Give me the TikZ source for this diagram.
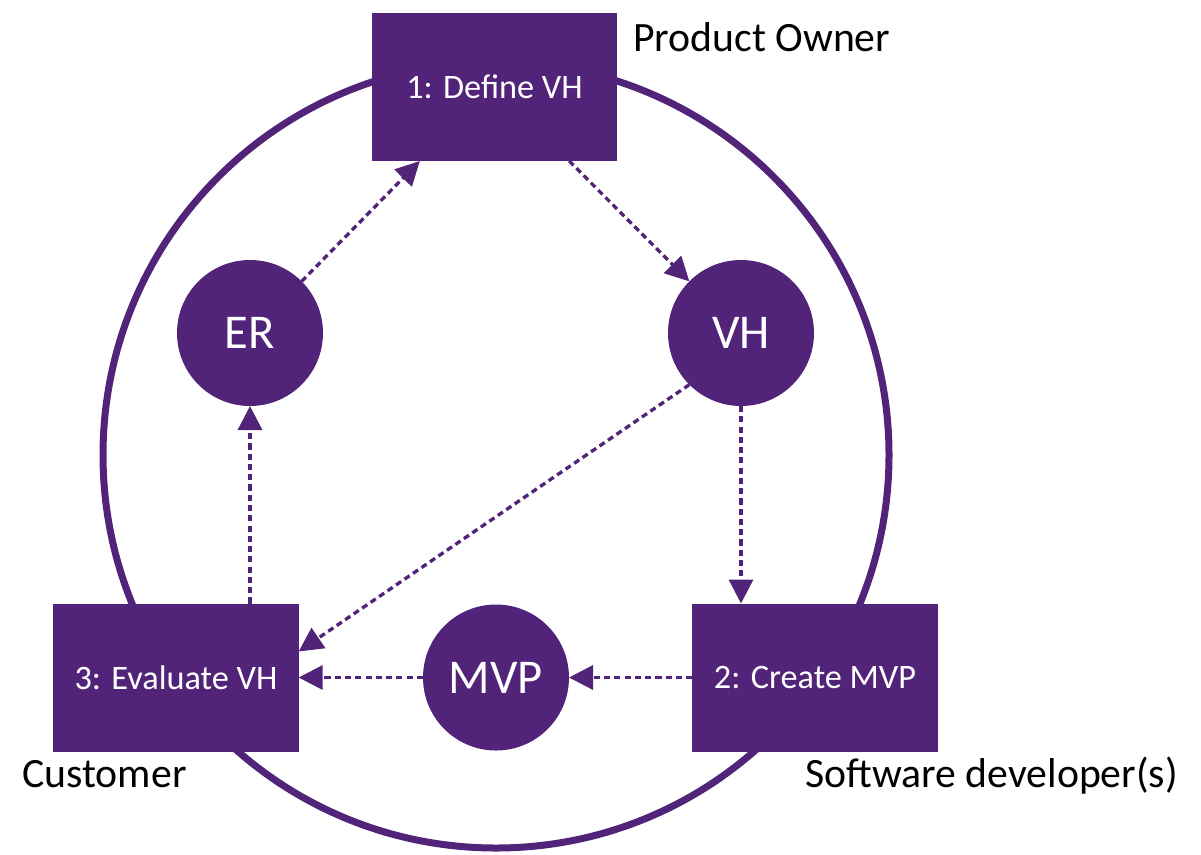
\documentclass[tikz,border=0pt]{standalone}
\usepackage{fontspec}
\setmainfont{Carlito}
\usetikzlibrary{arrows.meta,calc}
\definecolor{uqpurple}{HTML}{51247A}
\begin{document}
\begin{tikzpicture}[x=0.75pt,y=-0.75pt,
  stage/.style={fill=uqpurple,text=white,outer sep=0pt,minimum width=184pt,minimum height=111pt,font=\fontsize{25.7}{30}\selectfont},
  item/.style={circle,fill=uqpurple,text=white,outer sep=0pt,inner sep=0pt,minimum size=109.5pt,font=\fontsize{36.4}{43}\selectfont},
  role/.style={anchor=base west,inner sep=0pt,font=\fontsize{31.3}{36}\selectfont},
  flow/.style={uqpurple,line width=2.5pt,dash pattern=on 4.6pt off 3.1pt,-{Triangle[length=18pt,width=18pt]}}]
       \useasboundingbox (0,0) rectangle (1201,854);
       \draw[uqpurple,line width=5.25pt] (496,455) circle[radius=393];
       \node[stage] (box1) at (494.5,87) {1: Define VH};
       \node[stage] (box2) at (815,677.5) {2: Create MVP};
       \node[stage] (box3) at (176,677.5) {3: Evaluate VH};
       \node[item] (er) at (250,333) {ER};
       \node[item] (vh) at (741,333) {VH};
       \node[item] (mvp) at (496,677.5) {MVP};
       \node[role] (owner) at (633,51) {Product Owner};
       \node[role] (customer) at (22,787) {Customer};
       \node[role] (devs) at (805,787) {Software developer(s)};
       \draw[flow] (er.45) -- ($(box1.south west)+(48,0)$);
       \draw[flow] ($(box1.south east)+(-48,0)$) -- (vh.135);
       \draw[flow] (vh.south) -- (vh.south |- box2.north);
       \draw[flow] (vh.225) -- ($(box3.east)+(0,-26)$);
       \draw[flow] (box2.west) -- (mvp.east);
       \draw[flow] (mvp.west) -- (box3.east);
       \draw[flow] (box3.north -| er.south) -- (er.south);
\end{tikzpicture}
\end{document}
